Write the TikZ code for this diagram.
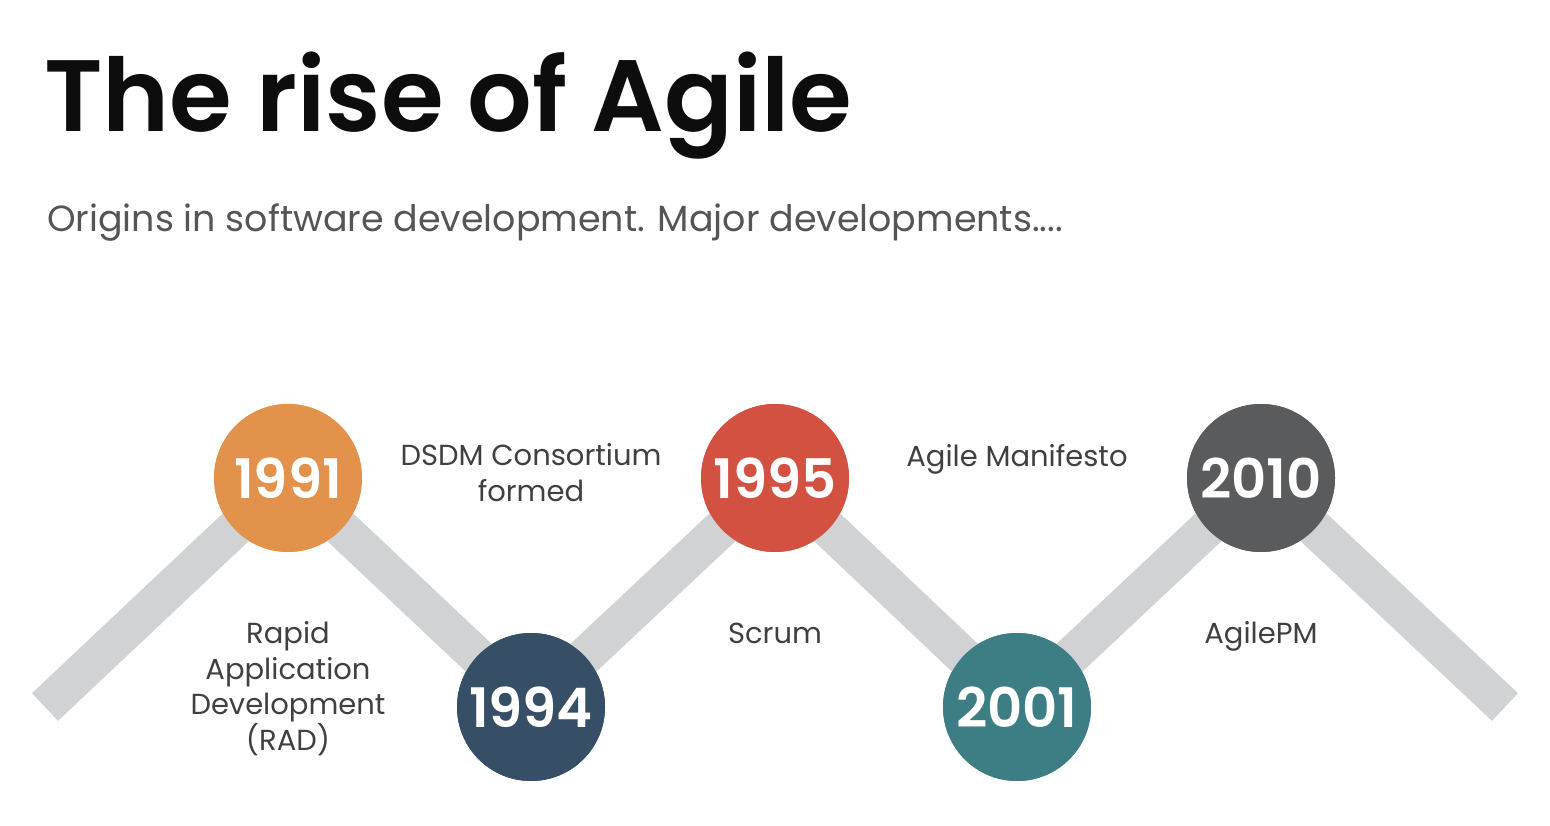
\documentclass[tikz,border=0pt]{standalone}
\usepackage{fontspec}
\setmainfont{Poppins}
\newfontfamily\semib{Poppins SemiBold}
\definecolor{cOrange}{HTML}{E3924B}
\definecolor{cNavy}{HTML}{374F66}
\definecolor{cRed}{HTML}{D35140}
\definecolor{cTeal}{HTML}{3D7E85}
\definecolor{cDark}{HTML}{5A5B5D}
\definecolor{cLine}{HTML}{D1D2D4}
\definecolor{cText}{HTML}{404040}
\definecolor{cSub}{HTML}{555555}
\begin{document}
\begin{tikzpicture}[x=1pt,y=-1pt,
  yearnode/.style={circle,minimum size=148pt,inner sep=0pt,text=white,font=\fontsize{54.5}{60}\selectfont\semib},
  lbl/.style={align=center,text=cText,font=\fontsize{29}{35.5}\selectfont,inner sep=0pt,anchor=base},
  track/.style={draw=cLine,line width=38pt,line join=miter}]
\useasboundingbox (0,0) rectangle (1550,826);
\coordinate (s) at (45,707);
\coordinate (e) at (1505,707);
\node[yearnode,fill=cOrange] (y1) at (288,478) {};
\node[yearnode,fill=cNavy] (y2) at (531,707) {};
\node[yearnode,fill=cRed] (y3) at (775,478) {};
\node[yearnode,fill=cTeal] (y4) at (1017,707) {};
\node[yearnode,fill=cDark] (y5) at (1261,478) {};
\draw[track] (s) -- (y1.center) -- (y2.center) -- (y3.center) -- (y4.center) -- (y5.center) -- (e);
\node[yearnode,fill=cOrange] at (y1) {1991};
\node[yearnode,fill=cNavy] at (y2) {1994};
\node[yearnode,fill=cRed] at (y3) {1995};
\node[yearnode,fill=cTeal] at (y4) {2001};
\node[yearnode,fill=cDark] at (y5) {2010};
\node[anchor=base west,inner sep=0pt,font=\fontsize{101.5}{110}\selectfont\semib,text=black!95] (title) at (44,132) {The rise of Agile};
\node[anchor=base west,inner sep=0pt,font=\fontsize{36.4}{40}\selectfont,text=cSub] (sub) at (47,232) {Origins in software development. Major developments....};
\node[lbl] (l1) at (288,750) {Rapid\\Application\\Development\\(RAD)};
\node[lbl] (l2) at (531,501) {DSDM Consortium\\formed};
\node[lbl] (l3) at (775,643) {Scrum};
\node[lbl] (l4) at (1017,466) {Agile Manifesto};
\node[lbl] (l5) at (1261,643) {AgilePM};
\end{tikzpicture}
\end{document}
